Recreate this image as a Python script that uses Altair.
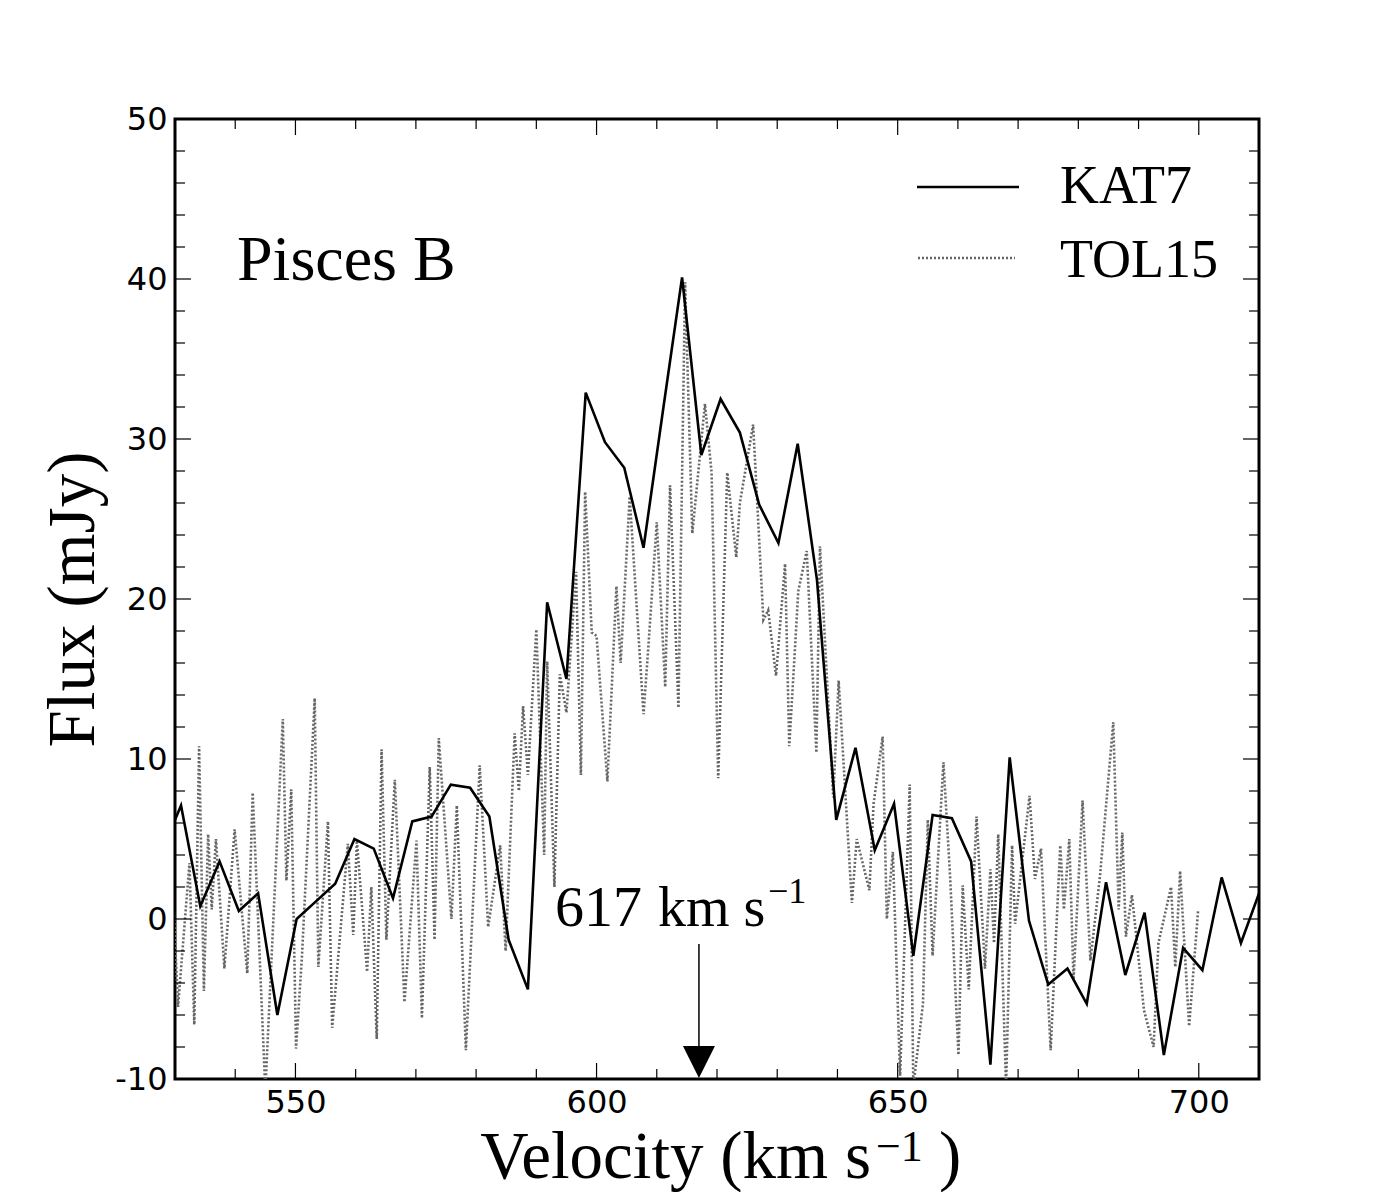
import altair as alt
import pandas as pd

# ---------------- data ----------------
kat7_vel = [527.8, 531.0, 534.2, 537.4, 540.6, 543.8, 547.0, 550.2, 553.4, 556.6,
            559.8, 563.0, 566.2, 569.4, 572.6, 575.8, 579.0, 582.2, 585.4, 588.6,
            591.8, 595.0, 598.2, 601.4, 604.6, 607.8, 611.0, 614.2, 617.4, 620.6,
            623.8, 627.0, 630.2, 633.4, 636.6, 639.8, 643.0, 646.2, 649.4, 652.6,
            655.8, 659.0, 662.2, 665.4, 668.6, 671.8, 675.0, 678.2, 681.4, 684.6,
            687.8, 691.0, 694.2, 697.4, 700.6, 703.8, 707.0, 710.2]
kat7_flux = [4.2, 7.1, 0.8, 3.6, 0.5, 1.6, -6.0, 0.0, 1.1, 2.2,
             5.0, 4.4, 1.3, 6.1, 6.4, 8.4, 8.2, 6.4, -1.3, -4.4,
             19.8, 15.0, 32.9, 29.8, 28.2, 23.2, 31.7, 40.1, 29.0, 32.5,
             30.4, 25.9, 23.5, 29.7, 21.2, 6.2, 10.7, 4.3, 7.2, -2.3,
             6.5, 6.3, 3.6, -9.1, 10.1, -0.1, -4.1, -3.1, -5.3, 2.3,
             -3.5, 0.4, -8.5, -1.8, -3.2, 2.6, -1.5, 1.8]

tol15_vel = [529.5, 530.5, 532.4, 533.2, 534.0, 534.8, 535.5, 536.1, 536.8, 538.2,
             539.9, 542.0, 542.9, 545.0, 547.9, 548.5, 549.3, 550.1, 551.1, 553.2,
             553.8, 555.4, 556.1, 558.7, 559.6, 560.2, 561.9, 562.6, 563.5, 564.3,
             565.1, 566.5, 568.1, 570.1, 571.0, 572.3, 573.1, 573.8, 575.9, 576.8,
             578.3, 580.6, 582.0, 584.0, 584.9, 586.4, 587.1, 587.8, 588.6, 590.0,
             591.3, 591.8, 593.0, 593.9, 595.0, 596.6, 597.4, 598.1, 599.2, 600.0,
             601.8, 603.3, 604.0, 605.5, 607.8, 608.6, 610.0, 611.4, 612.2, 613.6,
             614.7, 615.9, 618.0, 619.1, 620.2, 621.7, 623.2, 623.8, 626.0, 627.7,
             628.5, 629.8, 631.3, 632.0, 633.5, 634.9, 636.5, 637.1, 639.3, 640.2,
             642.4, 643.2, 645.3, 646.0, 647.5, 648.2, 649.2, 650.4, 652.0, 652.6,
             654.2, 655.0, 655.8, 657.6, 658.7, 660.1, 660.8, 661.8, 663.1, 664.5,
             665.4, 666.0, 666.7, 668.0, 669.0, 669.5, 671.9, 672.8, 673.8, 675.4,
             677.0, 677.6, 678.5, 679.2, 680.7, 682.0, 683.6, 685.8, 686.7, 687.3,
             687.9, 688.9, 690.9, 692.5, 693.3, 695.4, 696.1, 696.9, 698.4, 699.9]
tol15_flux = [3.0, -5.5, 3.5, -6.6, 10.8, -4.5, 5.3, 0.6, 5.0, -3.1,
              5.6, -3.4, 7.9, -10.7, 12.5, 2.4, 8.1, -8.1, -2.2, 13.8,
              -3.0, 6.1, -6.8, 4.7, -1.0, 4.9, -3.3, 2.0, -7.5, 10.6,
              -1.3, 8.7, -5.2, 4.9, -6.2, 9.5, -1.3, 11.3, 0.0, 7.1,
              -8.2, 9.6, -0.5, 4.6, -2.0, 11.6, 8.0, 13.3, 9.0, 18.1,
              4.0, 16.1, 2.0, 15.3, 12.9, 21.7, 9.0, 26.7, 17.9, 17.7,
              8.6, 20.8, 16.0, 26.4, 12.8, 17.0, 24.8, 14.5, 27.1, 13.2,
              39.8, 24.1, 32.2, 27.9, 8.8, 27.9, 22.6, 26.0, 30.9, 18.7,
              19.3, 15.2, 22.2, 10.8, 20.5, 23.0, 10.4, 23.3, 7.6, 14.9,
              1.0, 5.0, 1.8, 7.2, 11.4, 0.0, 4.2, -9.8, 8.4, -10.5,
              -5.3, 6.2, -2.3, 9.8, 2.7, -8.5, 2.1, -4.4, 6.4, -3.1,
              3.1, -1.5, 5.3, -10.5, 4.6, -0.3, 7.7, 2.5, 4.4, -8.2,
              4.6, 0.6, 5.0, -3.8, 7.4, -2.6, 2.7, 12.3, 0.6, 5.4,
              -1.1, 1.5, -5.7, -8.0, -1.5, 2.0, -3.0, 3.0, -6.7, 0.6]

x_major = [550, 600, 650, 700]
x_minor = [540, 560, 570, 580, 590, 610, 620, 630, 640, 660, 670, 680, 690]
y_major = [-10, 0, 10, 20, 30, 40, 50]
y_minor = [-8, -6, -4, -2, 2, 4, 6, 8, 12, 14, 16, 18, 22, 24, 26, 28,
           32, 34, 36, 38, 42, 44, 46, 48]

series_names = ["KAT7", "TOL15"]
object_name = ["Pisces B"]
systemic_velocity = [617]
systemic_number = ["617"]
unit_main = ["km s"]
unit_exp = ["\u22121"]
x_title_main = ["Velocity (km s"]
x_title_close = [")"]

# ---------------- chart ----------------
W, H = 1084, 960
SERIF = "Liberation Serif"
SANS = "DejaVu Sans"
GREY = "#666666"

xs = alt.Scale(domain=[530, 710], nice=False, zero=False)
ys = alt.Scale(domain=[-10, 50], nice=False, zero=False)

kat = pd.DataFrame({"v": kat7_vel, "f": kat7_flux})
tol = pd.DataFrame({"v": tol15_vel, "f": tol15_flux})

x_axis = alt.Axis(values=x_major, title=None,
                  labelFont=SANS, labelFontSize=32, labelPadding=8,
                  labelColor="black", labelFlush=False,
                  ticks=False, domain=False, grid=False)
y_axis = alt.Axis(values=y_major, title="Flux (mJy)", labelExpr="'' + datum.value",
                  labelFont=SANS, labelFontSize=32, labelPadding=8,
                  labelColor="black",
                  titleFont=SERIF, titleFontSize=67, titleFontWeight="normal",
                  titleColor="black", titleX=-82, titleY=H / 2, titleAngle=270,
                  titleAlign="center", titleBaseline="alphabetic",
                  ticks=False, domain=False, grid=False)

tol_line = alt.Chart(tol).mark_line(
    clip=True, color=GREY, strokeWidth=2.6, strokeDash=[2, 2]
).encode(
    x=alt.X("v:Q", scale=xs, axis=x_axis),
    y=alt.Y("f:Q", scale=ys, axis=y_axis),
)

kat_line = alt.Chart(kat).mark_line(
    clip=True, color="black", strokeWidth=2.6
).encode(
    x=alt.X("v:Q", scale=xs),
    y=alt.Y("f:Q", scale=ys),
)

def yticks(vals, length):
    d = pd.DataFrame({"f": vals})
    left = alt.Chart(d).mark_rule(color="black", strokeWidth=1.2).encode(
        y=alt.Y("f:Q", scale=ys), x=alt.value(0), x2=alt.value(length))
    right = alt.Chart(d).mark_rule(color="black", strokeWidth=1.2).encode(
        y=alt.Y("f:Q", scale=ys), x=alt.value(W - length), x2=alt.value(W))
    return [left, right]

def xticks(vals, length):
    d = pd.DataFrame({"v": vals})
    top = alt.Chart(d).mark_rule(color="black", strokeWidth=1.2).encode(
        x=alt.X("v:Q", scale=xs), y=alt.value(0), y2=alt.value(length))
    bottom = alt.Chart(d).mark_rule(color="black", strokeWidth=1.2).encode(
        x=alt.X("v:Q", scale=xs), y=alt.value(H - length), y2=alt.value(H))
    return [top, bottom]

tick_layers = yticks(y_major, 16) + yticks(y_minor, 10) + xticks(x_major, 16) + xticks(x_minor, 10)


def label(texts, size, x, y, align="left"):
    return alt.Chart(pd.DataFrame({"t": texts})).mark_text(
        font=SERIF, fontSize=size, align=align, baseline="alphabetic", color="black"
    ).encode(text="t:N", x=alt.value(x), y=alt.value(y))


title_text = label(object_name, 64, 62, 161)

# x axis title built in pieces so that the exponent is a real superscript
xt_main = label(x_title_main, 67, 696, 1059, align="right")
xt_exp = label(unit_exp, 44, 701, 1042)
xt_close = label(x_title_close, 67, 764, 1059)

# legend
leg_kat = alt.Chart(pd.DataFrame({"t": [series_names[0]]})).mark_rule(
    color="black", strokeWidth=2.6
).encode(x=alt.value(742), x2=alt.value(844), y=alt.value(68))
leg_tol = alt.Chart(pd.DataFrame({"t": [series_names[1]]})).mark_rule(
    color=GREY, strokeWidth=2.6, strokeDash=[2, 2]
).encode(x=alt.value(743), x2=alt.value(840), y=alt.value(139))
leg_kat_t = label([series_names[0]], 54, 885, 84)
leg_tol_t = label([series_names[1]], 54, 885, 158)

# systemic velocity annotation
sysv = pd.DataFrame({"v": systemic_velocity})
arrow_shaft = alt.Chart(sysv).mark_rule(color="black", strokeWidth=1.5).encode(
    x=alt.X("v:Q", scale=xs), y=alt.value(825), y2=alt.value(932))
arrow_head = alt.Chart(sysv).mark_point(
    shape="M -1 -1 L 1 -1 L 0 1 Z", size=1024, filled=True, color="black", opacity=1
).encode(x=alt.X("v:Q", scale=xs), y=alt.value(943))
sys_num = label(systemic_number, 58, 380, 807)
sys_unit = label(unit_main, 56, 483, 807)
sys_exp = label(unit_exp, 36, 593, 784)

chart = alt.layer(
    tol_line, kat_line, *tick_layers, title_text,
    xt_main, xt_exp, xt_close,
    leg_kat, leg_tol, leg_kat_t, leg_tol_t,
    arrow_shaft, arrow_head, sys_num, sys_unit, sys_exp,
).properties(
    width=W, height=H,
    autosize=alt.AutoSizeParams(type="none"),
    padding={"left": 167, "top": 111, "right": 133, "bottom": 113},
    background="white",
).configure_view(
    stroke="black", strokeWidth=3
)

chart.save("out.html", embed_options={"renderer": "svg", "actions": False})
